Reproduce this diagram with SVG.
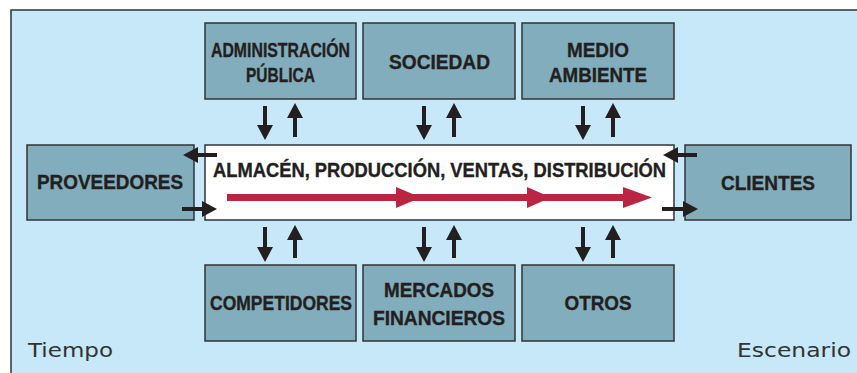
<svg xmlns="http://www.w3.org/2000/svg" width="857" height="373" viewBox="0 0 857 373">
<defs>
<style>
.box{fill:#82ADBC;stroke:#333;stroke-width:1.5}
.core{fill:#fff;stroke:#333;stroke-width:1.5}
.t{font-family:"Liberation Sans",Arial,sans-serif;font-weight:bold;font-size:19.5px;fill:#231f20;stroke:#231f20;stroke-width:0.35;text-anchor:middle}
.lbl{font-family:"DejaVu Sans","Liberation Sans",sans-serif;font-size:19px;fill:#333}
.a{stroke:#231f20;stroke-width:4;fill:none;marker-end:url(#ah)}
.red{fill:#BA2641}
</style>
<marker id="ah" viewBox="0 0 15 16" refX="5" refY="8" markerWidth="15" markerHeight="16" markerUnits="userSpaceOnUse" orient="auto">
<path d="M0,0 L15,8 L0,16 z" fill="#231f20"/>
</marker>
</defs>
<rect x="0" y="0" width="857" height="373" fill="#fff"/>
<rect x="11" y="10" width="860" height="380" fill="#C6E8F8" stroke="#333" stroke-width="1.5"/>
<text class="lbl" x="28" y="357" textLength="85" lengthAdjust="spacingAndGlyphs">Tiempo</text>
<text class="lbl" x="737" y="357" textLength="114" lengthAdjust="spacingAndGlyphs">Escenario</text>

<g id="core">
<rect class="core" x="205" y="145" width="469" height="75"/>
<text class="t" x="439.5" y="177" textLength="453" lengthAdjust="spacingAndGlyphs">ALMACÉN,  PRODUCCIÓN,  VENTAS,  DISTRIBUCIÓN</text>
</g>
<g id="administracion">
<rect class="box" x="205" y="23" width="151" height="76"/>
<text class="t" x="280.5" y="57" textLength="139" lengthAdjust="spacingAndGlyphs">ADMINISTRACIÓN</text>
<text class="t" x="280.5" y="82" textLength="69" lengthAdjust="spacingAndGlyphs">PÚBLICA</text>
</g>
<g id="sociedad">
<rect class="box" x="363" y="23" width="152" height="76"/>
<text class="t" x="439.5" y="69" textLength="101" lengthAdjust="spacingAndGlyphs">SOCIEDAD</text>
</g>
<g id="medio">
<rect class="box" x="522" y="23" width="152" height="76"/>
<text class="t" x="598" y="57" textLength="62" lengthAdjust="spacingAndGlyphs">MEDIO</text>
<text class="t" x="598" y="82" textLength="98" lengthAdjust="spacingAndGlyphs">AMBIENTE</text>
</g>
<g id="proveedores">
<rect class="box" x="27" y="145" width="167" height="75"/>
<text class="t" x="110" y="189" textLength="146" lengthAdjust="spacingAndGlyphs">PROVEEDORES</text>
</g>
<g id="clientes">
<rect class="box" x="685" y="145" width="166" height="75"/>
<text class="t" x="768" y="190" textLength="94" lengthAdjust="spacingAndGlyphs">CLIENTES</text>
</g>
<g id="competidores">
<rect class="box" x="205" y="265" width="151" height="76"/>
<text class="t" x="281" y="310" textLength="142" lengthAdjust="spacingAndGlyphs">COMPETIDORES</text>
</g>
<g id="mercados">
<rect class="box" x="363" y="265" width="152" height="76"/>
<text class="t" x="439" y="297" textLength="110" lengthAdjust="spacingAndGlyphs">MERCADOS</text>
<text class="t" x="439" y="325" textLength="132" lengthAdjust="spacingAndGlyphs">FINANCIEROS</text>
</g>
<g id="otros">
<rect class="box" x="522" y="265" width="152" height="76"/>
<text class="t" x="598" y="310" textLength="67" lengthAdjust="spacingAndGlyphs">OTROS</text>
</g>

<g id="connectors">
<line class="a" x1="265" y1="106" x2="265" y2="130"/>
<line class="a" x1="295" y1="137" x2="295" y2="113"/>
<line class="a" x1="424" y1="106" x2="424" y2="130"/>
<line class="a" x1="454" y1="137" x2="454" y2="113"/>
<line class="a" x1="583" y1="106" x2="583" y2="130"/>
<line class="a" x1="613" y1="137" x2="613" y2="113"/>
<line class="a" x1="265" y1="227" x2="265" y2="252"/>
<line class="a" x1="295" y1="258" x2="295" y2="235"/>
<line class="a" x1="424" y1="227" x2="424" y2="252"/>
<line class="a" x1="454" y1="258" x2="454" y2="235"/>
<line class="a" x1="583" y1="227" x2="583" y2="252"/>
<line class="a" x1="613" y1="258" x2="613" y2="235"/>
<line class="a" x1="217" y1="155" x2="193" y2="155"/>
<line class="a" x1="182" y1="209" x2="207" y2="209"/>
<line class="a" x1="697" y1="155" x2="673" y2="155"/>
<line class="a" x1="662" y1="209" x2="688" y2="209"/>
<rect class="red" x="227" y="194" width="405" height="7"/>
<polygon class="red" points="396,187 421,197.5 396,208"/>
<polygon class="red" points="527,187 551,197.5 527,208"/>
<polygon class="red" points="623,187 652,197.5 623,208"/>
</g>
</svg>
